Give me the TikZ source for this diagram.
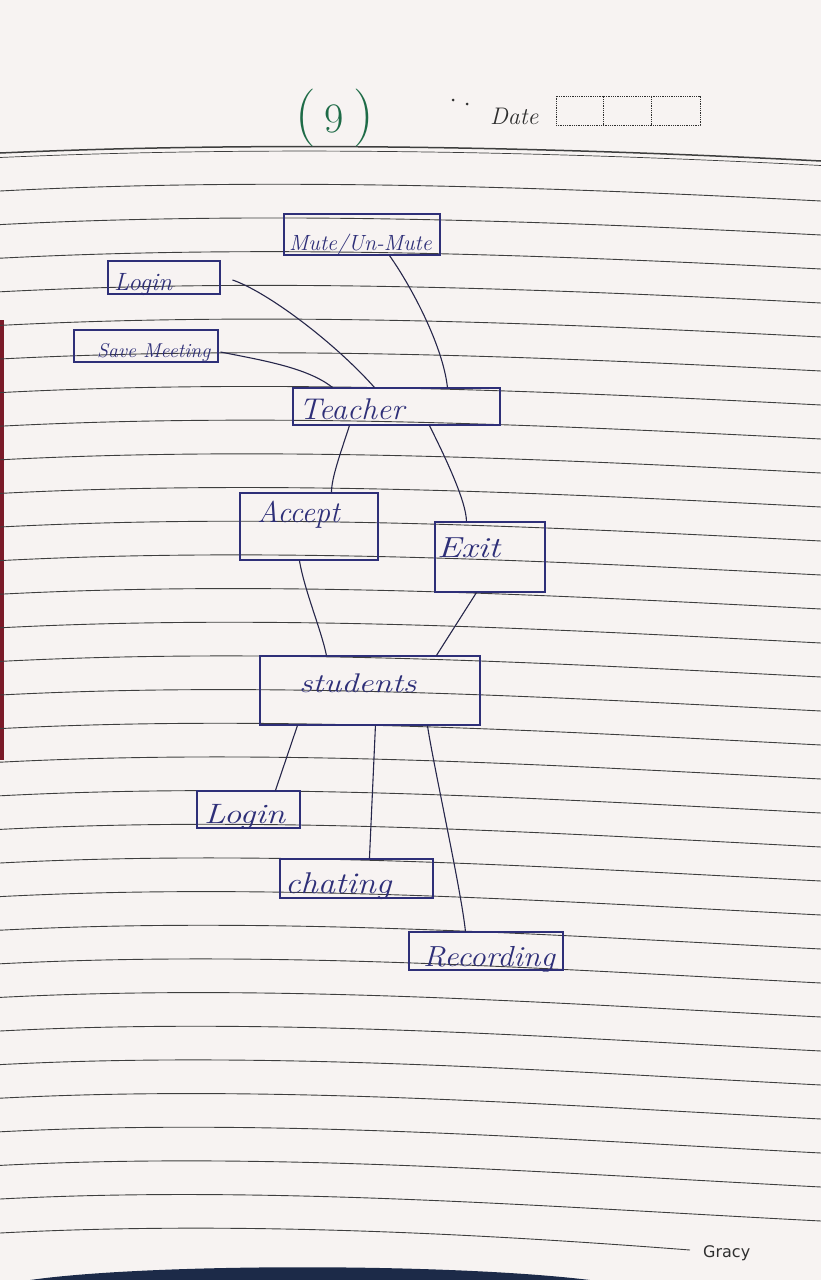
\documentclass[tikz,border=0pt]{standalone}
\usepackage{fontspec}
\usepackage{graphicx}
\newfontfamily\grfont{DejaVu Sans}
\usetikzlibrary{calc}
\definecolor{paper}{HTML}{F7F3F2}
\definecolor{ink}{HTML}{2E2F78}
\definecolor{penline}{HTML}{26264A}
\definecolor{ruleline}{HTML}{3E3E3E}
\definecolor{greenink}{HTML}{1E6B47}
\definecolor{marginred}{HTML}{7A1A28}
\definecolor{shadowblue}{HTML}{1C2A48}
\definecolor{printgrey}{HTML}{2F2F2F}
\newcommand\hwfont[1]{\fontsize{#1}{#1}\selectfont\itshape}
\newcommand\wide[2]{\scalebox{#1}[1]{#2}}
\begin{document}
\begin{tikzpicture}[x=1pt,y=-1pt,
  box/.style={draw=ink,line width=1.1pt,inner sep=0pt,rectangle},
  lbl/.style={anchor=base west,inner sep=0pt,text=ink},
  conn/.style={draw=penline,line width=1.1pt},
  ruled/.style={draw=ruleline,line width=0.9pt}]
\fill[paper] (0,0) rectangle (821,1280);
\useasboundingbox (0,0) rectangle (821,1280);

% binding / shadow
\fill[marginred] (0,320) rectangle (4,760);
\fill[shadowblue] (30,1280) .. controls (150,1263) and (450,1263) .. (590,1280) -- cycle;

% header double line
\draw[ruleline,line width=1.5pt] (0,153) .. controls (270,141) and (550,147) .. (821,161);
\draw[ruleline,line width=0.7pt] (0,157.5) .. controls (270,145.5) and (550,151.5) .. (821,165.5);

% ruled lines
\foreach \k in {0,...,30}{
  \pgfmathsetmacro\yl{191+33.6*\k}
  \pgfmathsetmacro\yr{201+34.0*\k}
  \draw[ruled] (0,\yl) .. controls (270,\yl-14) and (550,\yr-14) .. (821,\yr);
}
% footer line
\draw[ruled] (0,1233) .. controls (230,1221) and (470,1233) .. (690,1250);

% header texts
\node[text=greenink,inner sep=0pt] (pageno) at (335,118)
  {{\fontsize{58}{58}\selectfont(}\hspace{8pt}{\fontsize{42}{42}\selectfont 9}\hspace{10pt}{\fontsize{58}{58}\selectfont)}};
\fill[printgrey] (453,100) circle (1.5);
\fill[printgrey] (467,104) circle (1.5);
\node[anchor=base west,inner sep=0pt,text=printgrey,font=\hwfont{24}] (datelbl) at (490,124) {Date};
\node[draw=printgrey,densely dotted,line width=0.8pt,inner sep=0pt,minimum width=144pt,minimum height=29pt] (datebox) at (628,110.5) {};
\draw[printgrey,densely dotted,line width=0.8pt] ([xshift=48pt]datebox.north west) -- ([xshift=48pt]datebox.south west);
\draw[printgrey,densely dotted,line width=0.8pt] ([xshift=96pt]datebox.north west) -- ([xshift=96pt]datebox.south west);

% boxes
\node[box,minimum width=156pt,minimum height=41pt] (mute) at (362,234.5) {};
\node[box,minimum width=112pt,minimum height=33pt] (login1) at (164,277.5) {};
\node[box,minimum width=144pt,minimum height=32pt] (save) at (146,346) {};
\node[box,minimum width=207pt,minimum height=37pt] (teacher) at (396.5,406.5) {};
\node[box,minimum width=138pt,minimum height=67pt] (accept) at (309,526.5) {};
\node[box,minimum width=110pt,minimum height=70pt] (exit) at (490,557) {};
\node[box,minimum width=220pt,minimum height=69pt] (students) at (370,690.5) {};
\node[box,minimum width=103pt,minimum height=37pt] (login2) at (248.5,809.5) {};
\node[box,minimum width=153pt,minimum height=39pt] (chat) at (356.5,878.5) {};
\node[box,minimum width=154pt,minimum height=38pt] (rec) at (486,951) {};

% labels
\node[lbl,font=\hwfont{22}] (mutet) at (289,250) {Mute/Un-Mute};
\node[lbl,font=\hwfont{25}] (login1t) at (114,290) {Login};
\node[lbl,font=\hwfont{20}] (savet) at (97,357) {Save Meeting};
\node[lbl,font=\hwfont{30}] (teachert) at (299,419) {\wide{1.05}{Teacher}};
\node[lbl,font=\hwfont{30}] (acceptt) at (257,522) {Accept};
\node[lbl,font=\hwfont{29}] (exitt) at (437,557) {\wide{1.25}{Exit}};
\node[lbl,font=\hwfont{27}] (studentst) at (299,692) {\wide{1.25}{students}};
\node[lbl,font=\hwfont{28}] (login2t) at (204,823) {\wide{1.25}{Login}};
\node[lbl,font=\hwfont{30}] (chatt) at (285,893) {\wide{1.15}{chating}};
\node[lbl,font=\hwfont{29}] (rect) at (423,966) {\wide{1.1}{Recording}};

% connectors
\draw[conn] ([xshift=12pt,yshift=-2.5pt]login1.east) .. controls +(35,12) and +(-40,-45) .. ([xshift=82pt]teacher.north west);
\draw[conn] ([xshift=2pt,yshift=-6pt]save.east) .. controls +(40,8) and +(-25,-20) .. ([xshift=40pt]teacher.north west);
\draw[conn] ([xshift=106pt]mute.south west) .. controls +(18,25) and +(-5,-45) .. ([xshift=155pt]teacher.north west);
\draw[conn] ([xshift=57pt]teacher.south west) .. controls +(-8,25) and +(0,-15) .. ([xshift=92pt]accept.north west);
\draw[conn] ([xshift=137pt]teacher.south west) .. controls +(15,30) and +(0,-20) .. ([xshift=32pt]exit.north west);
\draw[conn] ([xshift=60pt]accept.south west) .. controls +(5,30) and +(-5,-25) .. ([xshift=67pt]students.north west);
\draw[conn] ([xshift=42pt]exit.south west) -- ([xshift=177pt]students.north west);
\draw[conn] ([xshift=38pt]students.south west) -- ([xshift=79pt]login2.north west);
\draw[conn] ([xshift=116pt]students.south west) -- ([xshift=90pt]chat.north west);
\draw[conn] ([xshift=168pt]students.south west) .. controls +(6,40) and +(-4,-40) .. ([xshift=57pt]rec.north west);

% footer signature
\node[anchor=base west,inner sep=0pt,text=printgrey,font=\grfont\fontsize{16}{16}\selectfont] (gracy) at (703,1257) {Gracy};
\end{tikzpicture}
\end{document}
